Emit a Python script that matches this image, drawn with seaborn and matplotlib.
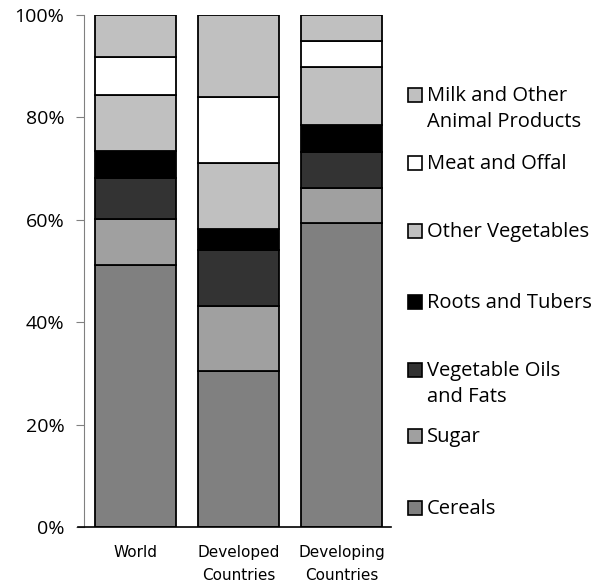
import numpy as np
import matplotlib.pyplot as plt
import matplotlib.patches as mpatches
import pandas as pd
import seaborn as sns

regions = ['World', 'Developed\nCountries', 'Developing\nCountries']
categories = ['Cereals', 'Sugar', 'Vegetable Oils\nand Fats', 'Roots and Tubers',
              'Other Vegetables', 'Meat and Offal', 'Milk and Other\nAnimal Products']
# shares in % per region, bottom to top
cereals = [51.1, 30.4, 59.3]
sugar = [9.1, 12.8, 7.0]
veg_oils = [7.9, 10.9, 6.9]
roots = [5.4, 4.1, 5.3]
other_veg = [10.8, 12.8, 11.3]
meat = [7.5, 12.9, 5.1]
milk = [8.2, 16.1, 5.1]
yticks = [0, 20, 40, 60, 80, 100]

colors = ['#808080', '#a0a0a0', '#333333', '#000000', '#c0c0c0', '#ffffff', '#c0c0c0']

df = pd.DataFrame({'region': regions, 'Cereals': cereals, 'Sugar': sugar,
                   'Vegetable Oils\nand Fats': veg_oils, 'Roots and Tubers': roots,
                   'Other Vegetables': other_veg, 'Meat and Offal': meat,
                   'Milk and Other\nAnimal Products': milk})

W, H = 596, 587
fig = plt.figure(figsize=(W / 100, H / 100), dpi=100)
ax = fig.add_axes([84 / W, 1 - 527 / H, 309 / W, 512 / H])

bottom = np.zeros(len(regions))
for cat, col in zip(categories, colors):
    vals = df[cat].to_numpy()
    sns.barplot(x=df['region'], y=vals, bottom=bottom, color=col, saturation=1,
                width=0.78, edgecolor='black', linewidth=1.3, ax=ax, errorbar=None)
    bottom = bottom + vals

ax.set_xlim(-0.5, 2.5)
ax.set_ylim(0, 100)
ax.set_yticks(yticks)
ax.set_yticklabels([f'{t}%' for t in yticks], fontsize=14, family='Open Sans')
ax.set_xlabel('')
ax.set_ylabel('')
for lab in ax.get_xticklabels():
    lab.set_fontsize(11)
    lab.set_family('DejaVu Sans')
    lab.set_linespacing(1.7)
ax.tick_params(axis='x', length=0, pad=13)
ax.tick_params(axis='y', length=6, color='#808080', pad=8)
ax.spines['top'].set_visible(False)
ax.spines['right'].set_visible(False)
ax.spines['left'].set_color('#808080')
ax.spines['bottom'].set_color('black')
ax.spines['bottom'].set_linewidth(1.2)
ax.spines['bottom'].set_bounds(-0.56, 2.48)

# legend, drawn by hand to follow the irregular spacing of the original
box_bottoms = [515, 443, 377, 309, 238, 170, 102]
for cat, col, yb in zip(categories, colors, box_bottoms):
    fig.patches.append(mpatches.Rectangle((408 / W, 1 - yb / H), 14 / W, 14 / H,
                                          transform=fig.transFigure, facecolor=col,
                                          edgecolor='black', linewidth=1.2))
    for i, line in enumerate(cat.split('\n')):
        fig.text(427 / W, 1 - (yb - 1 + 26 * i) / H, line, fontsize=14.5,
                 family='Open Sans', va='baseline', ha='left')

fig.savefig('out.png', dpi=100)
